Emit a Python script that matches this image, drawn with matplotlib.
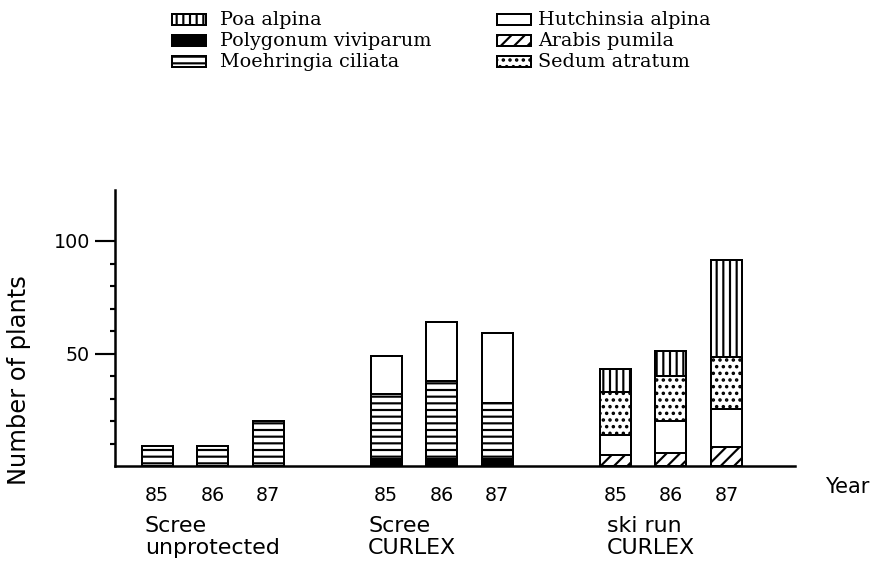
import matplotlib
matplotlib.use("Agg")
import matplotlib.pyplot as plt
from matplotlib.patches import Rectangle

plt.rcParams['hatch.linewidth'] = 1.3
plt.rcParams['font.family'] = ['DejaVu Sans']

# ---------------- data ----------------
sites = ["Scree\nunprotected", "Scree\nCURLEX", "ski run\nCURLEX"]
years = ["85", "86", "87"]
species = ["Poa alpina", "Polygonum viviparum", "Moehringia ciliata",
           "Hutchinsia alpina", "Arabis pumila", "Sedum atratum"]
# bar order: site1 85,86,87 | site2 85,86,87 | site3 85,86,87
polygonum = [0, 0, 0, 3, 3, 3, 0, 0, 0]
arabis = [0, 0, 0, 0, 0, 0, 5, 6, 8.5]
moehringia = [9, 9, 20, 29, 35, 25, 0, 0, 0]
hutchinsia = [0, 0, 0, 17, 26, 31, 9, 14, 17]
sedum = [0, 0, 0, 0, 0, 0, 19, 20, 23]
poa = [0, 0, 0, 0, 0, 0, 10, 11, 43]
yticks = [50, 100]
yminor = [10, 20, 30, 40, 60, 70, 80, 90]

# ---------------- styles ----------------
styles = {
    "Poa alpina": dict(facecolor="white", hatch="|||"),
    "Polygonum viviparum": dict(facecolor="black", hatch=None),
    "Moehringia ciliata": dict(facecolor="white", hatch="---"),
    "Hutchinsia alpina": dict(facecolor="white", hatch=None),
    "Arabis pumila": dict(facecolor="white", hatch="///"),
    "Sedum atratum": dict(facecolor="white", hatch="..."),
}
stack = [("Polygonum viviparum", polygonum), ("Arabis pumila", arabis),
         ("Moehringia ciliata", moehringia), ("Hutchinsia alpina", hutchinsia),
         ("Sedum atratum", sedum), ("Poa alpina", poa)]

W, H = 874, 569
DPI = 120
fig = plt.figure(figsize=(W / DPI, H / DPI), dpi=DPI)


def fx(x):
    return x / W


def fy(y):
    return 1 - y / H


ax_left, ax_right, ax_top, ax_bottom = 115, 795, 190, 466
ax = fig.add_axes([fx(ax_left), fy(ax_bottom), (ax_right - ax_left) / W,
                   (ax_bottom - ax_top) / H])

unit = 55.5
x0 = 157
gap = 4.13
pos = [g * gap + i for g in range(len(sites)) for i in range(len(years))]
width = 31 / unit

bottom = [0] * len(pos)
for name, vals in stack:
    st = styles[name]
    for p, b, v in zip(pos, bottom, vals):
        if v <= 0:
            continue
        ax.bar(p, v, width=width, bottom=b, color=st["facecolor"],
               edgecolor="black", linewidth=1.2, hatch=st["hatch"], zorder=2)
    bottom = [b + v for b, v in zip(bottom, vals)]

ax.set_xlim((ax_left - x0) / unit, (ax_right - x0) / unit)
ax.set_ylim(0, (ax_bottom - ax_top) / 2.25)

for s in ["top", "right"]:
    ax.spines[s].set_visible(False)
for s in ["left", "bottom"]:
    ax.spines[s].set_linewidth(1.5)
    ax.spines[s].set_zorder(3)

ax.set_xticks(pos)
ax.set_xticklabels(years * len(sites), fontsize=11.5)
ax.tick_params(axis="x", length=0, pad=12)

ax.set_yticks(yticks)
ax.set_yticklabels([str(t) for t in yticks], fontsize=11.5)
ax.set_yticks(yminor, minor=True)
ax.tick_params(axis="y", which="major", length=12, width=1.3, pad=3)
ax.tick_params(axis="y", which="minor", length=3, width=1.3)

# group labels
site_x = [145, 368, 607]
for sx, lab in zip(site_x, sites):
    fig.text(fx(sx), fy(537), lab, fontsize=13.3, ha="left", va="center",
             linespacing=1.1)

fig.text(fx(825), fy(487), "Year", fontsize=12.5, ha="left", va="center")
fig.text(fx(19), fy(380), "Number of plants", fontsize=14.5, rotation=90,
         ha="center", va="center")

# legend
leg_cols = [(172, 220), (497, 538)]
rows = [19, 40.5, 61]
for k, name in enumerate(species):
    col, row = divmod(k, 3)
    px, tx = leg_cols[col]
    ry = rows[row]
    st = styles[name]
    r = Rectangle((fx(px), fy(ry + 5.5)), 34 / W, 11 / H,
                  transform=fig.transFigure, facecolor=st["facecolor"],
                  edgecolor="black", linewidth=1.2, hatch=st["hatch"])
    fig.patches.append(r)
    fig.text(fx(tx), fy(ry + 6), name, fontsize=11.5, family="DejaVu Serif",
             ha="left", va="baseline")

fig.savefig("out.png", dpi=DPI)
